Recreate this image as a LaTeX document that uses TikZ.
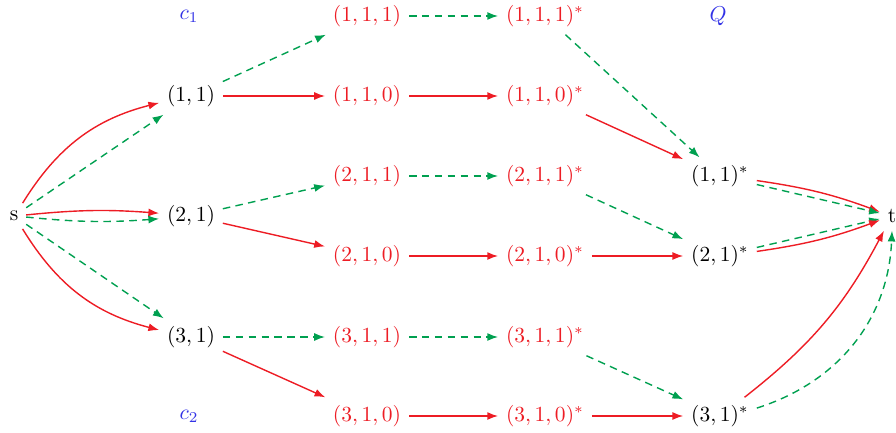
\documentclass[tikz,border=0pt]{standalone}
\usetikzlibrary{arrows.meta}
\definecolor{rd}{RGB}{237,28,36}
\definecolor{gn}{RGB}{0,160,80}
\definecolor{bl}{RGB}{50,50,230}
\begin{document}
\begin{tikzpicture}[x=0.465pt,y=-0.465pt,
  every node/.style={inner sep=3.5pt},
  rn/.style={text=rd},
  ra/.style={draw=rd,line width=0.65pt,-{Latex[length=5pt,width=3.7pt]}},
  ga/.style={draw=gn,line width=0.65pt,dash pattern=on 3.5pt off 2.5pt,-{Latex[length=5pt,width=3.7pt]}}]
\useasboundingbox (0,0) rectangle (896,433);
\node (s) at (14,216) {s};
\node (a1) at (191,96) {$(1,1)$};
\node (a2) at (191,216) {$(2,1)$};
\node (a3) at (191,337) {$(3,1)$};
\node[text=bl] (c1) at (189,16) {$c_1$};
\node[text=bl] (c2) at (189,416) {$c_2$};
\node[text=bl] (Q) at (718,16) {$Q$};
\node[rn] (b111) at (367,16) {$(1,1,1)$};
\node[rn] (b110) at (367,96) {$(1,1,0)$};
\node[rn] (b211) at (367,176) {$(2,1,1)$};
\node[rn] (b210) at (367,256) {$(2,1,0)$};
\node[rn] (b311) at (367,337) {$(3,1,1)$};
\node[rn] (b310) at (367,416) {$(3,1,0)$};
\node[rn] (d111) at (545,16) {$(1,1,1)^{*}$};
\node[rn] (d110) at (545,96) {$(1,1,0)^{*}$};
\node[rn] (d211) at (545,176) {$(2,1,1)^{*}$};
\node[rn] (d210) at (545,256) {$(2,1,0)^{*}$};
\node[rn] (d311) at (545,337) {$(3,1,1)^{*}$};
\node[rn] (d310) at (545,416) {$(3,1,0)^{*}$};
\node (e1) at (720,176) {$(1,1)^{*}$};
\node (e2) at (720,256) {$(2,1)^{*}$};
\node (e3) at (720,416) {$(3,1)^{*}$};
\node (t) at (892,216) {t};
% source
\draw[ra] (s) to[bend left=22] (a1);
\draw[ga] (s) -- (a1);
\draw[ra] (s) to[bend left=5] (a2);
\draw[ga] (s) to[bend right=5] (a2);
\draw[ga] (s) -- (a3);
\draw[ra] (s) to[bend right=22] (a3);
% level 2
\draw[ga] (a1) -- (b111);
\draw[ra] (a1) -- (b110);
\draw[ga] (a2) -- (b211);
\draw[ra] (a2) -- (b210);
\draw[ga] (a3) -- (b311);
\draw[ra] (a3) -- (b310);
% level 3
\draw[ga] (b111) -- (d111);
\draw[ra] (b110) -- (d110);
\draw[ga] (b211) -- (d211);
\draw[ra] (b210) -- (d210);
\draw[ga] (b311) -- (d311);
\draw[ra] (b310) -- (d310);
% level 4
\draw[ga] (d111) -- (e1);
\draw[ra] (d110) -- (e1);
\draw[ga] (d211) -- (e2);
\draw[ra] (d210) -- (e2);
\draw[ga] (d311) -- (e3);
\draw[ra] (d310) -- (e3);
% sink
\draw[ra] (e1) to[bend left=6] (t);
\draw[ga] (e1) -- (t);
\draw[ga] (e2) -- (t);
\draw[ra] (e2) to[bend right=6] (t);
\draw[ra] (e3) to[bend right=12] (t);
\draw[ga] (e3) to[bend right=35] (t.south);
\end{tikzpicture}
\end{document}
